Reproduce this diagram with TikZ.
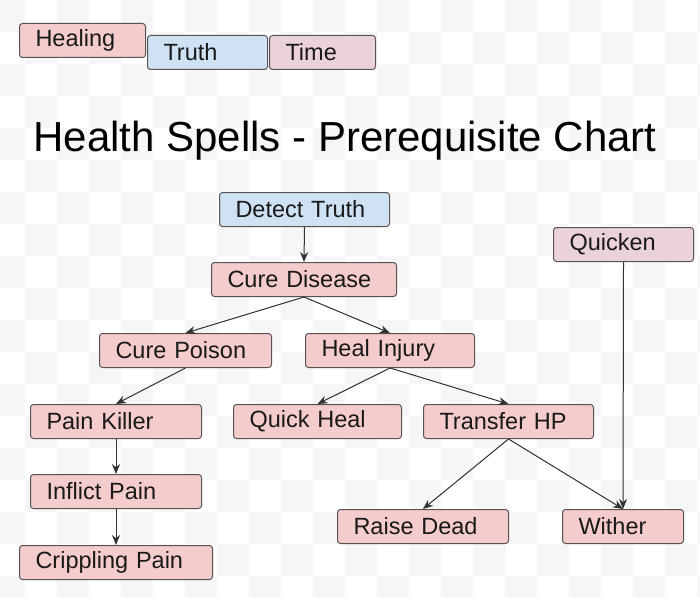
\documentclass[tikz,border=0pt]{standalone}
\usepackage{fontspec}
\setmainfont{Liberation Sans}
\usepackage{tikz}
\usetikzlibrary{arrows.meta}

\definecolor{healpink}{RGB}{244,204,204}
\definecolor{truthblue}{RGB}{207,226,243}
\definecolor{timemauve}{RGB}{234,209,220}
\definecolor{boxline}{RGB}{88,82,84}
\definecolor{linkline}{RGB}{50,50,50}
\definecolor{checker}{RGB}{246,246,246}

\tikzset{
  spell/.style={draw=boxline, line width=1pt, rounded corners=3pt, anchor=north west,
    minimum height=34pt, inner xsep=16pt, inner ysep=0pt, align=left, text width=#1,
    text=black!90, font=\fontsize{23.5}{27}\selectfont},
  dep/.style={draw=linkline, line width=1pt, -{Stealth[length=10pt,width=8pt]}}
}

\begin{document}
\begin{tikzpicture}[x=1pt,y=1pt,yscale=-1,xscale=1]
\clip (0,0) rectangle (700,596);
%Background checker
\fill[white] (0,0) rectangle (700,596);
\foreach \j in {0,...,18}
  \foreach \k in {-1,...,11}
    \fill[checker] ({25+32*(2*\k+1-mod(\j,2))},{32*\j}) rectangle +(32,32);

%Legend
\node[spell=94pt, fill=healpink] (healing) at (19,23) {Healing};
\node[spell=88pt, fill=truthblue] (truth) at (147,35) {Truth};
\node[spell=74pt, fill=timemauve] (time) at (269,35) {Time};

%Title
\node[anchor=base, font=\fontsize{42}{48}\selectfont] (title) at (345,151) {Health Spells - Prerequisite Chart};

%Spells
\node[spell=138pt, fill=truthblue] (detect) at (219,192) {Detect Truth};
\node[spell=153pt, fill=healpink] (disease) at (211,262) {Cure Disease};
\node[spell=140pt, fill=healpink] (poison) at (99,333) {Cure Poison};
\node[spell=137pt, fill=healpink] (injury) at (305,333) {Heal Injury};
\node[spell=139pt, fill=healpink] (killer) at (30,404) {Pain Killer};
\node[spell=136pt, fill=healpink] (quickheal) at (233,404) {Quick Heal};
\node[spell=138pt, fill=healpink] (transfer) at (423,404) {Transfer HP};
\node[spell=139pt, fill=healpink] (inflict) at (30,474) {Inflict Pain};
\node[spell=161pt, fill=healpink] (crippling) at (19,545) {Crippling Pain};
\node[spell=139pt, fill=healpink] (raise) at (337,509) {Raise Dead};
\node[spell=89pt, fill=healpink] (wither) at (562,509) {Wither};
\node[spell=108pt, fill=timemauve] (quicken) at (553,227) {Quicken};

%Prerequisites
\draw[dep] (detect.south) -- (disease.north);
\draw[dep] (disease.south) -- (poison.north);
\draw[dep] (disease.south) -- (injury.north);
\draw[dep] (poison.south) -- (killer.north);
\draw[dep] (injury.south) -- (quickheal.north);
\draw[dep] (injury.south) -- (transfer.north);
\draw[dep] (killer.south) -- (inflict.north);
\draw[dep] (inflict.south) -- (crippling.north);
\draw[dep] (transfer.south) -- (raise.north);
\draw[dep] (transfer.south) -- (wither.north);
\draw[dep] (quicken.south) -- (wither.north);

\end{tikzpicture}
\end{document}
